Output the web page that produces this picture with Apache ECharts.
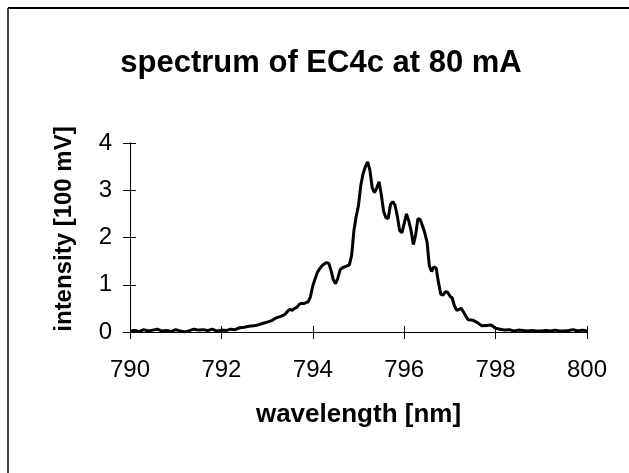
<!DOCTYPE html>
<html>
<head>
<meta charset="utf-8">
<script src="https://cdn.jsdelivr.net/npm/echarts@6/dist/echarts.min.js"></script>
<style>
html,body{margin:0;padding:0;background:#fff;}
#c{width:629px;height:473px;}
</style>
</head>
<body>
<div id="c"></div>
<script>
const titleText = 'spectrum of EC4c at 80 mA';
const xName = 'wavelength [nm]';
const yName = 'intensity [100 mV]';
const xTicks = [790, 792, 794, 796, 798, 800];
const yTicks = [0, 1, 2, 3, 4];

const wavelength = [
790.0,790.1,790.2,790.3,790.4,790.5,790.6,790.7,790.8,790.9,
791.0,791.1,791.2,791.3,791.4,791.5,791.6,791.7,791.8,791.9,
792.0,792.1,792.2,792.3,792.4,792.5,792.6,792.7,792.8,792.9,
793.0,793.1,793.2,793.3,793.35,793.4,793.45,793.5,793.55,793.6,
793.65,793.7,793.75,793.8,793.85,793.9,793.95,794.0,794.05,794.1,
794.15,794.2,794.25,794.3,794.35,794.4,794.45,794.5,794.55,794.6,
794.65,794.7,794.75,794.8,794.85,794.9,794.95,795.0,795.05,795.1,
795.15,795.2,795.25,795.3,795.35,795.4,795.45,795.5,795.55,795.6,
795.65,795.7,795.75,795.8,795.85,795.9,795.95,796.0,796.05,796.1,
796.15,796.2,796.25,796.3,796.35,796.4,796.45,796.5,796.55,796.6,
796.65,796.7,796.75,796.8,796.85,796.9,796.95,797.0,797.05,797.1,
797.15,797.2,797.25,797.3,797.35,797.4,797.5,797.6,797.7,797.8,
797.9,798.0,798.1,798.2,798.3,798.4,798.5,798.6,798.7,798.8,
798.9,799.0,799.1,799.2,799.3,799.4,799.5,799.6,799.7,799.8,
799.9,800.0
];
const intensity = [
0.02,0.03,0.01,0.05,0.02,0.04,0.06,0.02,0.03,0.01,
0.05,0.02,0.00,0.03,0.06,0.04,0.05,0.03,0.06,0.02,
0.04,0.03,0.06,0.05,0.09,0.10,0.12,0.13,0.15,0.18,
0.21,0.24,0.30,0.33,0.35,0.38,0.44,0.48,0.46,0.50,
0.52,0.58,0.61,0.60,0.62,0.64,0.75,0.98,1.12,1.26,
1.34,1.40,1.44,1.47,1.45,1.30,1.10,1.02,1.15,1.32,
1.36,1.38,1.40,1.42,1.62,2.15,2.45,2.68,3.10,3.35,
3.50,3.60,3.42,3.05,2.95,3.05,3.18,2.90,2.55,2.42,
2.40,2.70,2.76,2.68,2.45,2.15,2.10,2.30,2.50,2.35,
2.15,1.85,2.05,2.40,2.38,2.25,2.10,1.90,1.40,1.28,
1.38,1.35,1.05,0.80,0.78,0.85,0.84,0.76,0.72,0.55,
0.46,0.48,0.50,0.42,0.33,0.26,0.25,0.20,0.13,0.14,
0.15,0.08,0.06,0.04,0.05,0.02,0.04,0.03,0.02,0.03,
0.02,0.02,0.03,0.02,0.04,0.02,0.02,0.03,0.05,0.02,
0.04,0.02
];

const seriesData = wavelength.map((w, i) => [w, intensity[i]]);
const FONT = '"Liberation Sans", Arial, sans-serif';
const xMin = xTicks[0], xMax = xTicks[xTicks.length - 1], xStep = xTicks[1] - xTicks[0];
const yMin = yTicks[0], yMax = yTicks[yTicks.length - 1], yStep = yTicks[1] - yTicks[0];

const chart = echarts.init(document.getElementById('c'), null, {renderer: 'canvas'});
const axisCommonX = {type: 'value', min: xMin, max: xMax, interval: xStep, position: 'bottom',
  splitLine: {show: false}, axisLine: {show: true, onZero: false, lineStyle: {color: '#000', width: 1}}};
const axisCommonY = {type: 'value', min: yMin, max: yMax, interval: yStep, position: 'left',
  splitLine: {show: false}, axisLine: {show: true, onZero: false, lineStyle: {color: '#000', width: 1}}};

chart.setOption({
  animation: false,
  backgroundColor: '#fff',
  title: {
    text: titleText,
    left: 316, top: 43, textAlign: 'center',
    textStyle: {fontFamily: FONT, fontWeight: 'bold', fontSize: 31, color: '#000'}
  },
  grid: {left: 130, right: 42, top: 143, bottom: 141, containLabel: false},
  xAxis: [
    Object.assign({}, axisCommonX, {
      axisTick: {show: true, inside: false, length: 7, lineStyle: {color: '#000'}},
      axisLabel: {show: true, margin: 26, fontFamily: FONT, fontSize: 24, color: '#000'},
      name: xName, nameLocation: 'middle', nameGap: 70,
      nameTextStyle: {fontFamily: FONT, fontWeight: 'bold', fontSize: 26, color: '#000'}
    }),
    Object.assign({}, axisCommonX, {
      axisTick: {show: true, inside: true, length: 6, lineStyle: {color: '#000'}},
      axisLabel: {show: false}
    })
  ],
  yAxis: [
    Object.assign({}, axisCommonY, {
      axisTick: {show: true, inside: false, length: 7, lineStyle: {color: '#000'}},
      axisLabel: {show: true, margin: 18, fontFamily: FONT, fontSize: 24, color: '#000'}
    }),
    Object.assign({}, axisCommonY, {
      axisTick: {show: true, inside: true, length: 6, lineStyle: {color: '#000'}},
      axisLabel: {show: false}
    })
  ],
  graphic: [
    {type: 'line', shape: {x1: 8, y1: 8, x2: 629, y2: 8}, style: {stroke: '#000', lineWidth: 2}, silent: true},
    {type: 'line', shape: {x1: 8, y1: 8, x2: 8, y2: 473}, style: {stroke: '#000', lineWidth: 1.5}, silent: true},
    {type: 'text', x: 64, y: 229, rotation: Math.PI / 2,
     style: {text: yName, fontFamily: FONT, fontWeight: 'bold', fontSize: 24, fill: '#000',
             textAlign: 'center', textVerticalAlign: 'middle'}}
  ],
  series: [{
    type: 'line',
    xAxisIndex: 0, yAxisIndex: 0,
    data: seriesData,
    showSymbol: false,
    lineStyle: {color: '#000', width: 3},
    smooth: false
  }]
});
</script>
</body>
</html>
